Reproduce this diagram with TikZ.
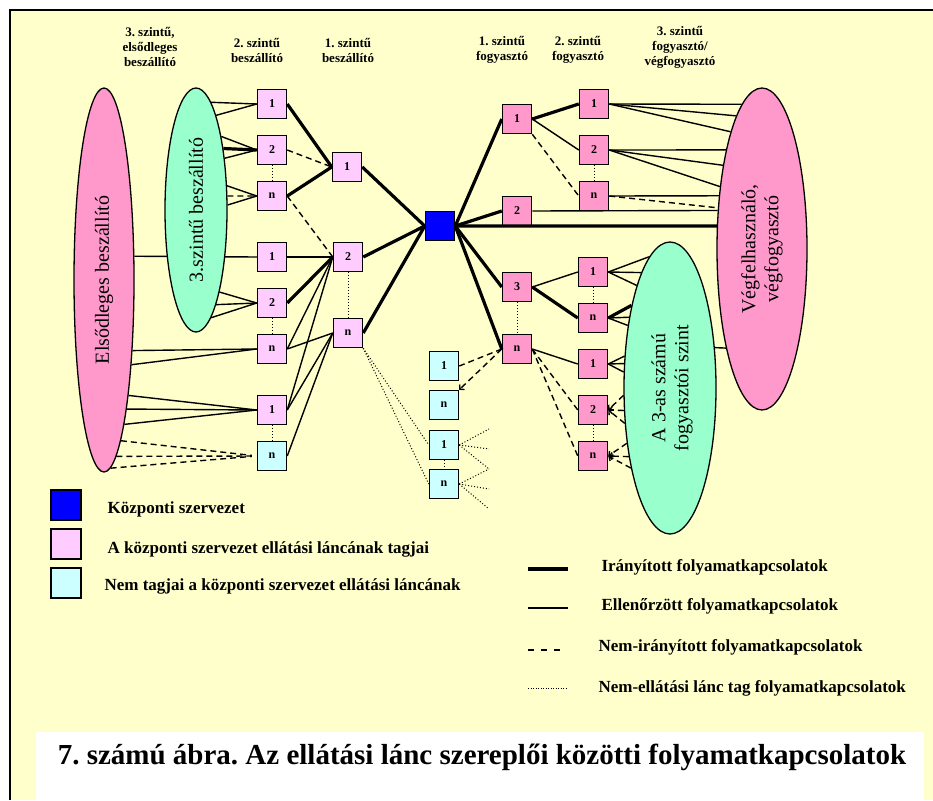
\documentclass[tikz,border=0pt]{standalone}
\usepackage{fontspec}
\setmainfont{Liberation Serif}
\usetikzlibrary{shapes.geometric,arrows.meta}
\definecolor{sarga}{HTML}{FFFFCC}
\definecolor{halvany}{HTML}{FFCCFF}
\definecolor{rozsa}{HTML}{FF99CC}
\definecolor{menta}{HTML}{99FFCC}
\definecolor{turkiz}{HTML}{CCFFFF}
\pgfdeclarelayer{hatter}
\pgfsetlayers{hatter,main}
\frenchspacing

\begin{document}
\begin{tikzpicture}[x=1pt,y=-1pt,
	tag/.style = {draw, line width=1.5pt, minimum size=29pt, inner sep=0pt, font=\fontsize{12}{13}\selectfont\bfseries},
	bsz/.style = {tag, fill=halvany},
	fogy/.style = {tag, fill=rozsa},
	kulso/.style = {tag, fill=turkiz},
	halmaz/.style = {draw, ellipse, line width=1.3pt, inner sep=0pt},
	felirat/.style = {rotate=90, align=center, font=\fontsize{20}{23}\selectfont},
	fej/.style = {align=center, font=\fontsize{13}{15}\selectfont\bfseries},
	jelmagy/.style = {anchor=west, font=\fontsize{17}{20}\selectfont\bfseries},
	irany/.style = {line width=3.2pt},
	ellen/.style = {line width=1.4pt},
	nemirany/.style = {line width=1.4pt, dash pattern=on 6pt off 4pt},
	nemlanc/.style = {line width=1pt, dash pattern=on 1pt off 2pt},
	hegy/.style = {-{Straight Barb[length=3pt,width=7pt]}}]
	\useasboundingbox (0,0) rectangle (933,800);
	\begin{pgfonlayer}{hatter}
		\fill[white] (0,0) rectangle (933,800);
		\fill[sarga] (10,10) rectangle (933,800);
		\draw[line width=1.5pt] (10,800) -- (10,10) -- (933,10);
		\fill[white] (36,732) rectangle (924,800);
	\end{pgfonlayer}

	\node[fej] (h1) at (150,47) {3. szintű,\\elsődleges\\beszállító};
	\node[fej] (h2) at (257,50) {2. szintű\\beszállító};
	\node[fej] (h3) at (348,50) {1. szintű\\beszállító};
	\node[fej] (h4) at (502,50) {1. szintű\\fogyasztó};
	\node[fej] (h5) at (578,50) {2. szintű\\fogyasztó};
	\node[fej] (h6) at (680,47) {3. szintű\\fogyasztó/\\végfogyasztó};

	\node[halmaz, fill=rozsa, minimum width=60pt, minimum height=384pt] (E1) at (104,280) {};
	\node[halmaz, fill=menta, minimum width=62pt, minimum height=244pt] (G1) at (196,210) {};
	\node[halmaz, fill=rozsa, minimum width=90pt, minimum height=322pt] (E2) at (762,249) {};
	\node[halmaz, fill=menta, minimum width=92pt, minimum height=292pt] (G2) at (670,388) {};
	\node[felirat] (E1t) at (E1) {Elsődleges beszállító};
	\node[felirat] (G1t) at (G1) {3.szintű beszállító};
	\node[felirat] (E2t) at (E2) {Végfelhasználó,\\végfogyasztó};
	\node[felirat] (G2t) at (672,388) {A 3-as számú\\fogyasztói szint};

	\node[bsz] (b21) at (272,104) {1};
	\node[bsz] (b22) at (272,150) {2};
	\node[bsz] (b2n) at (272,196) {n};
	\node[bsz] (b31) at (272,257) {1};
	\node[bsz] (b32) at (272,303) {2};
	\node[bsz] (b3n) at (272,349) {n};
	\node[bsz] (b41) at (272,410) {1};
	\node[kulso] (b4n) at (272,456) {n};
	\node[bsz] (b11) at (347,167) {1};
	\node[bsz] (b12) at (348,257) {2};
	\node[bsz] (b1n) at (348,333) {n};
	\node[tag, fill=blue] (kp) at (440,226) {};
	\node[kulso] (k1) at (444,366) {1};
	\node[kulso] (k2) at (444,405) {n};
	\node[kulso] (k3) at (444,445) {1};
	\node[kulso] (k4) at (444,484) {n};
	\node[fogy] (f11) at (517,119) {1};
	\node[fogy] (f12) at (517,211) {2};
	\node[fogy] (f13) at (517,287) {3};
	\node[fogy] (f1n) at (517,349) {n};
	\node[fogy] (f21) at (594,104) {1};
	\node[fogy] (f22) at (594,150) {2};
	\node[fogy] (f2n) at (594,196) {n};
	\node[fogy] (f31) at (593,272) {1};
	\node[fogy] (f3n) at (593,318) {n};
	\node[fogy] (f41) at (593,364) {1};
	\node[fogy] (f42) at (593,410) {2};
	\node[fogy] (f4n) at (593,456) {n};
	\coordinate (v1) at (489,429);
	\coordinate (v2) at (489,449);
	\coordinate (v3) at (489,469);
	\coordinate (v4) at (489,489);
	\coordinate (v5) at (489,509);

	\begin{pgfonlayer}{hatter}
		\draw[ellen] (E1.38) -- (b31.west);
	\end{pgfonlayer}
	\draw[ellen] (G1.82) -- (b21.west);
	\draw[ellen] (G1.78) -- (b21.west);
	\draw[ellen] (G1.71) -- (b22.west);
	\draw[irany] (G1.66) -- (b22.west);
	\draw[ellen] (G1.61) -- (b22.west);
	\draw[ellen] (G1.38) -- (b2n.west);
	\draw[nemirany] (G1.24) -- (b2n.west);
	\draw[ellen] (G1.9) -- (b2n.west);
	\draw[ellen] (G1.-74) -- (b32.west);
	\draw[ellen] (G1.-78) -- (b32.west);
	\draw[ellen] (G1.-82) -- (b32.west);
	\draw[ellen] (E1.-68) -- (b3n.west);
	\draw[ellen] (E1.-72) -- (b3n.west);
	\draw[ellen] (E1.-78) -- (b41.west);
	\draw[ellen] (E1.-80) -- (b41.west);
	\draw[ellen] (E1.-82) -- (b41.west);
	\draw[nemirany, shorten >=5pt] (E1.-84) -- (b4n.west);
	\draw[nemirany, shorten >=5pt] (E1.-86) -- (b4n.west);
	\draw[nemirany, shorten >=5pt] (E1.-88) -- (b4n.west);
	\draw[nemlanc] (b22) -- (b2n);
	\draw[nemlanc] (b32) -- (b3n);
	\draw[nemlanc] (b41) -- (b4n);
	\draw[nemlanc] (b12) -- (b1n);
	\draw[irany] (b21.east) -- (b11.west);
	\draw[nemirany] (b22.east) -- (b11.west);
	\draw[irany] (b2n.east) -- (b11.west);
	\draw[nemirany] (b2n.east) -- (b12.west);
	\draw[ellen] (b31.east) -- (b12.west);
	\draw[irany] (b32.east) -- (b12.west);
	\draw[ellen] (b3n.east) -- (b12.west);
	\draw[ellen] (b3n.east) -- (b1n.west);
	\draw[ellen] (b41.east) -- (b12.west);
	\draw[ellen] (b41.east) -- (b1n.west);
	\draw[ellen] (b4n.east) -- (b1n.west);
	\draw[irany] (b11.east) -- (kp.west);
	\draw[irany] (b12.east) -- (kp.west);
	\draw[irany] (b1n.east) -- (kp.west);
	\draw[nemlanc] (b1n.south east) -- (k3.west);
	\draw[nemlanc] (b1n.south east) -- (k4.west);
	\draw[nemlanc] (k3) -- (k4);
	\draw[nemlanc] (k3.east) -- (v1);
	\draw[nemlanc] (k3.east) -- (v2);
	\draw[nemlanc] (k3.east) -- (v3);
	\draw[nemlanc] (k4.east) -- (v3);
	\draw[nemlanc] (k4.east) -- (v4);
	\draw[nemlanc] (k4.east) -- (v5);

	\draw[irany] (kp.east) -- (f11.west);
	\draw[irany] (kp.east) -- (f12.west);
	\draw[irany] (kp.east) -- (E2.153);
	\draw[irany] (kp.east) -- (f13.west);
	\draw[irany] (kp.east) -- (f1n.west);
	\draw[ellen] (f12.east) -- (E2.139);
	\draw[irany] (f11.east) -- (f21.west);
	\draw[ellen] (f11.east) -- (f22.west);
	\draw[nemirany] (f11.south east) -- (f2n.west);
	\draw[nemlanc] (f22) -- (f2n);
	\draw[ellen] (f21.east) -- (E2.98);
	\draw[ellen] (f21.east) -- (E2.101);
	\draw[ellen] (f21.east) -- (E2.105);
	\draw[ellen] (f22.east) -- (E2.110);
	\draw[ellen] (f22.east) -- (E2.115);
	\draw[ellen] (f22.east) -- (E2.124);
	\draw[ellen] (f2n.east) -- (E2.129);
	\draw[nemirany] (f2n.east) -- (E2.137);
	\draw[nemlanc] (f13) -- (f1n);
	\draw[ellen] (f13.east) -- (f31.west);
	\draw[irany] (f13.east) -- (f3n.west);
	\draw[ellen] (f1n.east) -- (f41.west);
	\draw[nemirany] (f1n.east) -- (f42.west);
	\draw[nemirany] (f1n.east) -- (f4n.west);
	\draw[nemirany] (f1n.west) -- (k1.east);
	\draw[nemirany, hegy] (f1n.west) -- (k2.north east);
	\draw[nemlanc] (f31) -- (f3n);
	\draw[nemlanc] (f42) -- (f4n);
	\draw[ellen] (f31.east) -- (G2.99);
	\draw[ellen] (f31.east) -- (G2.104);
	\draw[ellen] (f31.east) -- (G2.108);
	\draw[irany] (f3n.east) -- (G2.115);
	\draw[ellen] (f3n.east) -- (G2.120);
	\draw[ellen] (f3n.east) -- (G2.124);
	\draw[ellen] (f41.east) -- (G2.145);
	\draw[ellen] (f41.east) -- (G2.152);
	\draw[ellen] (f41.east) -- (G2.161);
	\draw[nemirany, hegy] (G2.189) -- (f42.east);
	\draw[nemirany, hegy] (G2.206) -- (f42.east);
	\draw[nemirany, hegy] (G2.218) -- (f42.east);
	\draw[nemirany, hegy] (G2.232) -- (f4n.east);
	\draw[nemirany, hegy] (G2.239) -- (f4n.east);
	\draw[nemirany, hegy] (G2.244) -- (f4n.east);
	\draw[ellen] (G2.42) -- (E2.250);

	\node[draw, line width=1.5pt, fill=blue, minimum width=30pt, minimum height=30pt] (j1) at (66,505) {};
	\node[draw, line width=1.5pt, fill=halvany, minimum width=30pt, minimum height=30pt] (j2) at (66,544) {};
	\node[draw, line width=1.5pt, fill=turkiz, minimum width=30pt, minimum height=30pt] (j3) at (66,583) {};
	\node[jelmagy] (j1t) at (104,509) {Központi szervezet};
	\node[jelmagy] (j2t) at (104,549) {A központi szervezet ellátási láncának tagjai};
	\node[jelmagy] (j3t) at (101,586) {Nem tagjai a központi szervezet ellátási láncának};
	\coordinate (l1a) at (528,569);
	\coordinate (l1b) at (568,569);
	\coordinate (l2a) at (528,608);
	\coordinate (l2b) at (568,608);
	\coordinate (l3a) at (528,650);
	\coordinate (l3b) at (566,650);
	\coordinate (l4a) at (528,688);
	\coordinate (l4b) at (568,688);
	\draw[line width=4pt] (l1a) -- (l1b);
	\draw[line width=1.8pt] (l2a) -- (l2b);
	\draw[line width=1.8pt, dash pattern=on 6pt off 7pt] (l3a) -- (l3b);
	\draw[line width=1pt, dash pattern=on 1pt off 1.5pt] (l4a) -- (l4b);
	\node[jelmagy] (l1t) at (598,567) {Irányított folyamatkapcsolatok};
	\node[jelmagy] (l2t) at (598,606) {Ellenőrzött folyamatkapcsolatok};
	\node[jelmagy] (l3t) at (595,647) {Nem-irányított folyamatkapcsolatok};
	\node[jelmagy] (l4t) at (595,688) {Nem-ellátási lánc tag folyamatkapcsolatok};

	\node[font=\fontsize{29}{32}\selectfont\bfseries] (cim) at (482,757) {7. számú ábra. Az ellátási lánc szereplői közötti folyamatkapcsolatok};
\end{tikzpicture}
\end{document}
